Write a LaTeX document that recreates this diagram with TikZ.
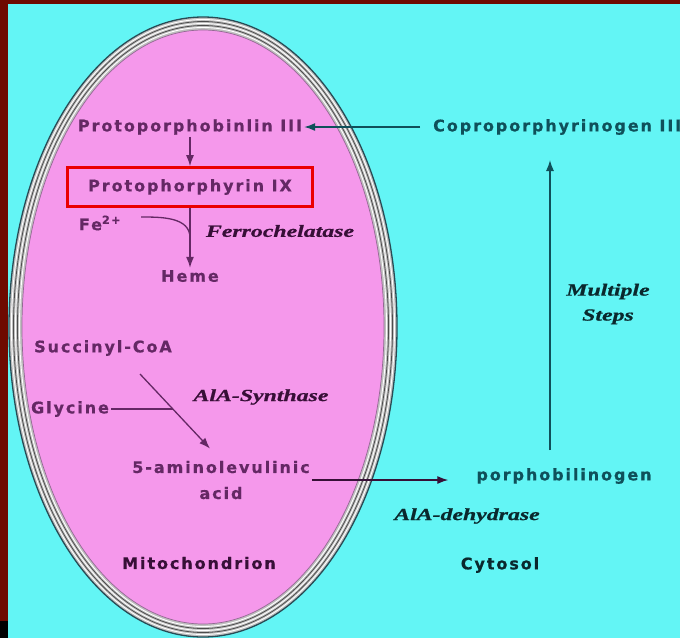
\documentclass[tikz,border=0pt]{standalone}
\usepackage{fontspec}
\usepackage{xcolor}
\usepackage{tikz}
\usetikzlibrary{calc,arrows.meta,positioning}
\newfontfamily\pixfont[LetterSpace=12, BoldFeatures={FakeBold=0.6}]{DejaVu Sans}
\newfontfamily\handfont[FakeStretch=1.4, FakeBold=0.8]{Liberation Serif}
\definecolor{cellCyan}{RGB}{99,245,245}
\definecolor{mitoPink}{RGB}{245,152,235}
\definecolor{frameRed}{RGB}{110,10,0}
\definecolor{mitoText}{RGB}{100,40,100}
\definecolor{mitoDark}{RGB}{55,15,55}
\definecolor{cytoText}{RGB}{15,80,90}
\definecolor{cytoDark}{RGB}{10,40,45}
\definecolor{membraneLine}{RGB}{40,75,85}
\definecolor{boxRed}{RGB}{235,0,0}

\begin{document}
\begin{tikzpicture}[x=1pt, y=-1pt,
  mitolabel/.style={font=\pixfont\bfseries\fontsize{16}{18}\selectfont, text=mitoText, inner sep=2pt},
  cytolabel/.style={font=\pixfont\bfseries\fontsize{16}{18}\selectfont, text=cytoText, inner sep=2pt},
  enzyme/.style={font=\handfont\bfseries\itshape\fontsize{17}{25}\selectfont, text=mitoDark, inner sep=0pt},
  mitoline/.style={draw=mitoText, line width=1.3pt},
  mitoarrow/.style={mitoline, -{Latex[length=11pt,width=8pt]}},
  cytoarrow/.style={draw=cytoText, line width=1.3pt, -{Latex[length=11pt,width=8pt]}}]
\useasboundingbox (0,0) rectangle (680,638);
\clip (0,0) rectangle (680,638);
% frame and cytosol
\fill[frameRed] (0,0) rectangle (680,638);
\fill[black] (0,621) rectangle (8,638);
\fill[cellCyan] (8,4) rectangle (680,638);
% mitochondrion membrane
\fill[gray!50] (203,327) ellipse [x radius=194, y radius=310];
\foreach \d in {2.5,6.5,10.5}
  \draw[white, line width=0.9pt] (203,327) ellipse [x radius=194-\d, y radius=310-\d];
\foreach \d in {4.5,8.5}
  \draw[black!70, line width=0.8pt] (203,327) ellipse [x radius=194-\d, y radius=310-\d];
\draw[membraneLine, line width=1.3pt] (203,327) ellipse [x radius=194, y radius=310];
\fill[mitoPink] (203,327) ellipse [x radius=181, y radius=297];
\draw[mitoText!70, line width=0.7pt] (203,327) ellipse [x radius=181, y radius=297];

% heme branch
\node[mitolabel] (proto3) at (190,127) {Protoporphobinlin III};
\node[cytolabel, anchor=west] (copro) at (431,127) {Coproporphyrinogen III};
\node[mitolabel, draw=boxRed, line width=2.6pt, minimum width=245, minimum height=39] (protoIX) at (190,187) {Protophorphyrin IX};
\node[mitolabel] (fe) at (100,223) {Fe\textsuperscript{2+}};
\node[mitolabel] (heme) at (190,276) {Heme};
\node[enzyme] (ferro) at (280,231) {Ferrochelatase};

% ALA branch
\node[mitolabel] (succ) at (103,348) {Succinyl-CoA};
\node[mitolabel] (gly) at (70,409) {Glycine};
\node[enzyme] (alasyn) at (261,397) {AlA-Synthase};
\node[mitolabel, align=center, font=\pixfont\bfseries\fontsize{16}{26}\selectfont] (ala) at (221,480) {5-aminolevulinic\\acid};
\node[cytolabel] (porpho) at (564,476) {porphobilinogen};
\node[enzyme, text=cytoDark] (aladeh) at (467,516) {AlA-dehydrase};
\node[enzyme, text=cytoDark, align=center] (steps) at (608,304) {Multiple\\Steps};

% compartments
\node[mitolabel, text=mitoDark] (mito) at (199,563) {Mitochondrion};
\node[cytolabel, text=cytoDark] (cyto) at (500,565) {Cytosol};

% connectors
\coordinate (alastart) at ([xshift=37pt,yshift=-16pt]succ.south);
\coordinate (alatip) at ([xshift=-11pt,yshift=10pt]ala.north);
\coordinate (glyjoin) at ($(alastart)!0.47!(alatip)$);
\coordinate (fejoin) at ($(protoIX.south)!0.5!(heme.north)$);
\coordinate (stepsfoot) at ([xshift=-14pt]porpho.north);
\coordinate (porphoin) at ([xshift=-26pt]porpho.west);

\draw[cytoarrow, shorten <=11pt] (copro.west) -- (proto3.east);
\draw[mitoarrow] (proto3) -- (protoIX);
\draw[mitoarrow] (protoIX) -- (heme);
\draw[mitoline] ([xshift=18pt,yshift=6pt]fe.east) to[out=0,in=90] (fejoin);
\draw[mitoarrow] (alastart) -- (alatip);
\draw[mitoline] (gly.east) -- (gly.east -| glyjoin);
\draw[cytoarrow, draw=mitoDark] (ala.east) -- (porphoin |- ala.east);
\draw[cytoarrow, shorten <=16pt, shorten >=23pt] (stepsfoot) -- (stepsfoot |- copro.south);
\end{tikzpicture}
\end{document}
